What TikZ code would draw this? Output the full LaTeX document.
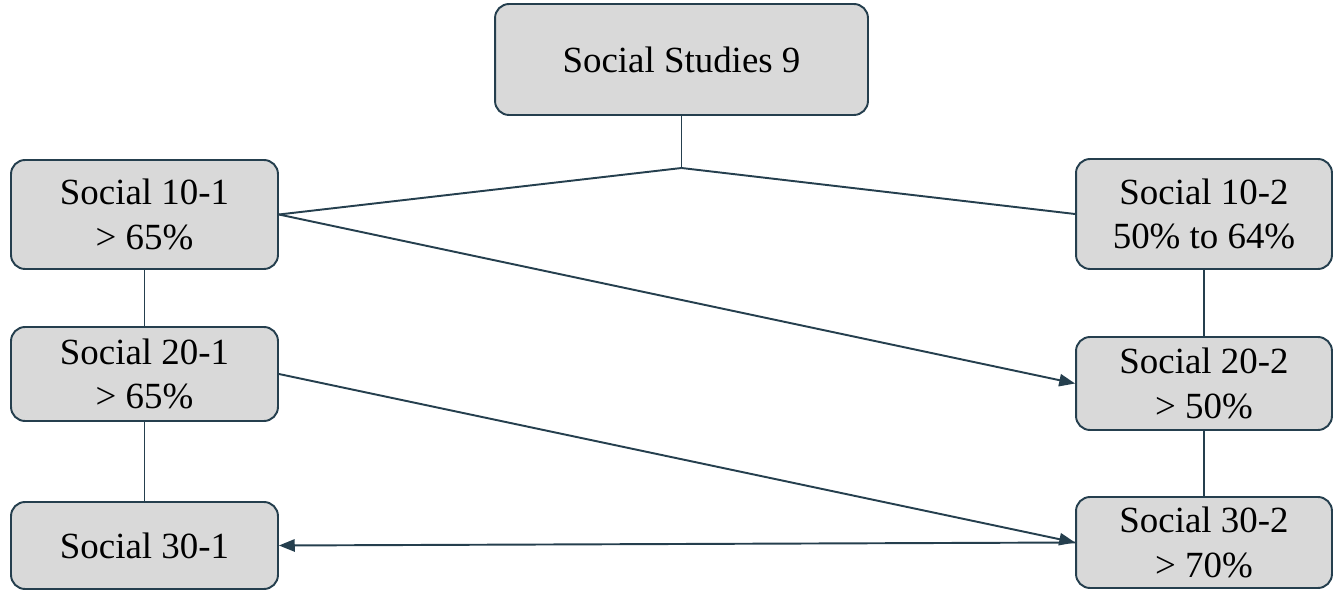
\documentclass[tikz,border=0pt]{standalone}
\usepackage{fontspec}
\setmainfont{Liberation Serif}
\usepackage{tikz}
\usetikzlibrary{arrows.meta}

\definecolor{edge}{HTML}{253F4E}
\definecolor{boxfill}{HTML}{D9D9D9}

\begin{document}
\begin{tikzpicture}[x=0.02cm, y=-0.02cm, font=\fontsize{21}{25.5}\selectfont,
        course/.style={ draw=edge, fill=boxfill, line width=1.1pt, rounded
        corners=8pt, align=center, inner sep=2pt, minimum width=5.34cm },
        rcourse/.style={ course, minimum width=5.12cm },
        link/.style={ draw=edge, line width=1.1pt },
        arrow/.style={ link, -{Triangle[length=9pt,width=7pt]} } ]

    \useasboundingbox (0,0) rectangle (1333,591);

    \node[course, minimum width=7.46cm, minimum height=2.22cm] (ss9) at
    (681.5,59.5) {Social Studies 9}; \node[course, minimum height=2.18cm]
    (s101) at (144.5,214.5) {Social 10-1\\> 65\%}; \node[course, minimum
    height=1.88cm] (s201) at (144.5,374) {Social 20-1\\> 65\%};
    \node[course, minimum height=1.74cm] (s301) at (144.5,545.5) {Social
    30-1}; \node[rcourse, minimum height=2.2cm] (s102) at (1204,214) {Social
    10-2\\50\% to 64\%}; \node[rcourse, minimum height=1.86cm] (s202) at
    (1204,383.5) {Social 20-2\\> 50\%}; \node[rcourse, minimum
    height=1.82cm] (s302) at (1204,542.5) {Social 30-2\\> 70\%};

    \coordinate (split) at (683,168);

    \draw[link] (ss9.south) -- (ss9.south |- split); \draw[link] (ss9.south
    |- split) -- (s101.east); \draw[link] (ss9.south |- split) --
    (s102.west);

    \draw[link] (s101) -- (s201); \draw[link] (s201) -- (s301); \draw[link]
    (s102) -- (s202); \draw[link] (s202) -- (s302);

    \draw[arrow] (s101.east) -- (s202.west); \draw[arrow] (s201.east) --
    (s302.west); \draw[arrow, {Triangle[length=9pt,width=7pt]}-] (s301.east)
    -- (s302.west);

\end{tikzpicture}
\end{document}
